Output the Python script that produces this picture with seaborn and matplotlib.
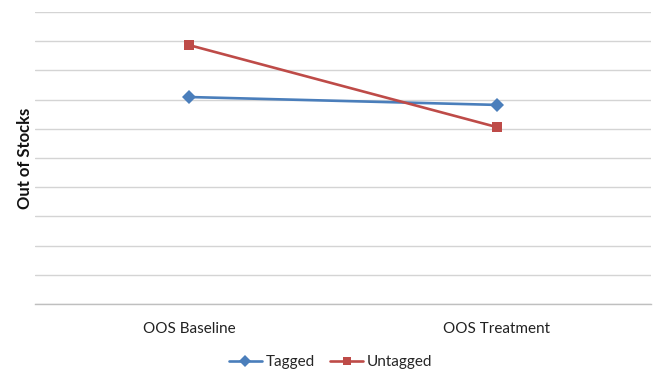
import matplotlib
matplotlib.use("Agg")
import matplotlib.pyplot as plt
import seaborn as sns
import pandas as pd
from matplotlib.ticker import FixedLocator

# Out-of-stock levels per group, baseline vs. treatment (gridline units)
periods = ["OOS Baseline", "OOS Treatment"]
tagged = [7.09, 6.82]
untagged = [8.87, 6.06]
series_names = ["Tagged", "Untagged"]

df = pd.DataFrame({
    "period": periods * 2,
    "value": tagged + untagged,
    "group": [series_names[0]] * len(periods) + [series_names[1]] * len(periods),
})

sns.set_style("white")
plt.rcParams["font.family"] = ["Lato", "DejaVu Sans"]

fig = plt.figure(figsize=(6.54, 3.77), dpi=100)
ax = fig.add_axes([0.0535, 0.1936, 0.9415, 0.7744])

palette = {"Tagged": "#4a7ebb", "Untagged": "#be4b48"}
sns.lineplot(
    data=df, x="period", y="value", hue="group", style="group",
    markers={"Tagged": "D", "Untagged": "s"}, dashes=False,
    palette=palette, linewidth=1.9, markersize=7.5, markeredgewidth=0,
    ax=ax, legend=True,
)

ax.set_xlim(-0.5, 1.5)
ax.set_ylim(0, 10)
ax.yaxis.set_major_locator(FixedLocator(range(0, 11)))
ax.set_yticklabels([])
ax.tick_params(axis="y", length=0)
ax.grid(axis="y", color="#d4d4d4", linewidth=1.0)
ax.set_axisbelow(True)

ax.set_xticks([0, 1])
ax.set_xticklabels(periods, fontsize=11, color="#222222")
ax.tick_params(axis="x", which="major", length=0, pad=13)
ax.xaxis.set_minor_locator(FixedLocator([-0.5, 0.5, 1.5]))
ax.tick_params(axis="x", which="minor", length=5, color="#bfbfbf", width=1)

for side in ["top", "right", "left"]:
    ax.spines[side].set_visible(False)
ax.spines["bottom"].set_color("#bfbfbf")
ax.spines["bottom"].set_linewidth(1)

ax.set_xlabel("")
ax.set_ylabel("Out of Stocks", fontsize=12, fontweight="bold", color="#111111")
ax.yaxis.set_label_coords(-0.004, 0.5)

handles, labels = ax.get_legend_handles_labels()
ax.legend(
    handles, labels, loc="center", bbox_to_anchor=(0.505, 0.04),
    bbox_transform=fig.transFigure, ncol=2, frameon=False,
    fontsize=11, handlelength=2.2, handletextpad=0.2, columnspacing=1.0,
    markerscale=0.75,
)

fig.savefig("out.png", dpi=100)
